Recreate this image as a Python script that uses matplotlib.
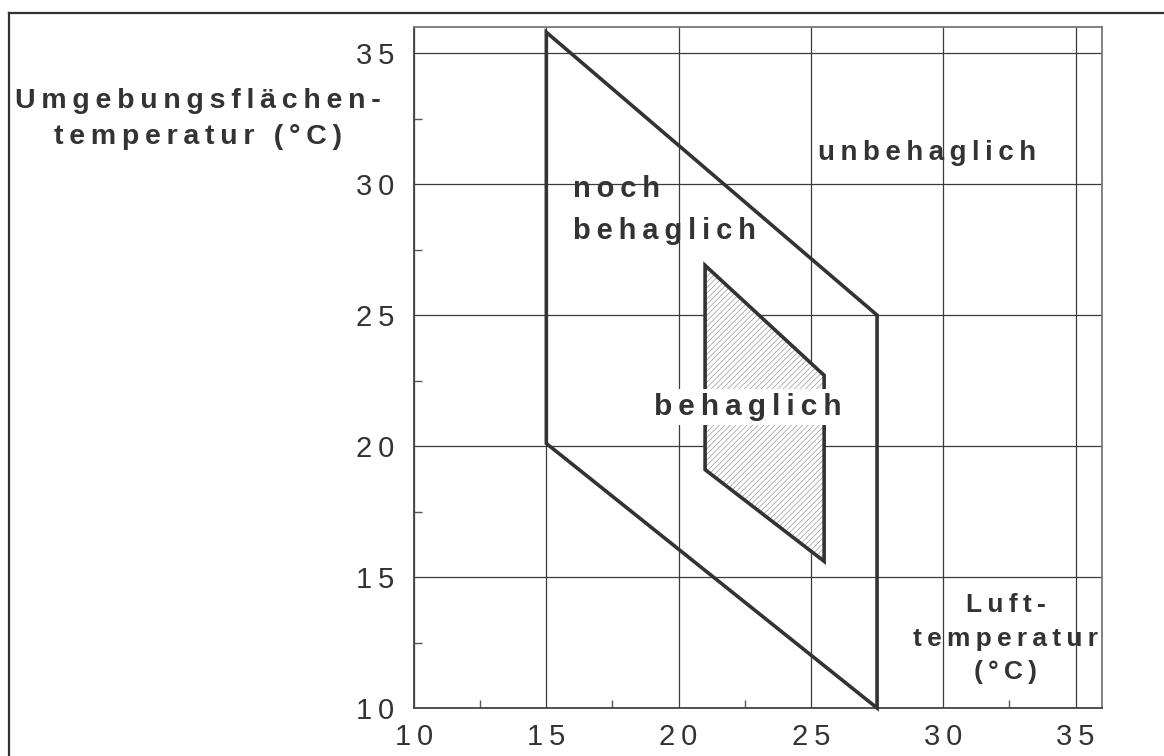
import matplotlib.pyplot as plt
from matplotlib.patches import Polygon
from matplotlib.lines import Line2D
from matplotlib.ticker import MultipleLocator

# comfort zones: air temperature (x) vs. surrounding surface temperature (y)
outer_x = [15, 27.5, 27.5, 15]
outer_y = [35.8, 25, 10, 20.1]
inner_x = [21, 25.5, 25.5, 21]
inner_y = [26.9, 22.7, 15.6, 19.1]

ticks = [10, 15, 20, 25, 30, 35]
tick_labels = ["10", "15", "20", "25", "30", "35"]

FONT = ["Liberation Sans", "DejaVu Sans"]
DARK = "#333333"


def spaced(s):
    # wide letter spacing like in the original drawing
    return "\n".join("\u2009".join(line) for line in s.split("\n"))


fig = plt.figure(figsize=(11.64, 7.56), dpi=100)
ax = fig.add_axes([0.3557, 0.0635, 0.5910, 0.9008])

ax.set_xlim(10, 36)
ax.set_ylim(10, 36)

# grid and ticks
ax.set_xticks(ticks)
ax.set_yticks(ticks)
ax.set_xticklabels([spaced(t) for t in tick_labels], family=FONT, fontsize=21, color=DARK)
ax.set_yticklabels([spaced(t) for t in tick_labels], family=FONT, fontsize=21, color=DARK)
ax.xaxis.set_minor_locator(MultipleLocator(2.5))
ax.yaxis.set_minor_locator(MultipleLocator(2.5))
ax.tick_params(which="both", direction="in", color="#555555", width=1)
ax.tick_params(axis="x", which="major", length=0, pad=11)
ax.tick_params(axis="y", which="major", length=0, pad=14)
ax.tick_params(which="minor", length=6)
ax.grid(True, which="major", color="#3a3a3a", linewidth=0.9)
ax.set_axisbelow(True)
for side in ["left", "bottom"]:
    ax.spines[side].set_color("#444444")
    ax.spines[side].set_linewidth(1.3)
for side in ["top", "right"]:
    ax.spines[side].set_color("#777777")
    ax.spines[side].set_linewidth(1.3)

# hatched inner zone
plt.rcParams["hatch.linewidth"] = 0.5
hatch = Polygon(list(zip(inner_x, inner_y)), closed=True, facecolor="white",
                edgecolor="#9a9a9a", hatch="//////", linewidth=0, zorder=2)
ax.add_patch(hatch)

ax.add_patch(Polygon(list(zip(outer_x, outer_y)), closed=True, fill=False,
                     edgecolor=DARK, linewidth=2.6, joinstyle="miter", zorder=3, clip_on=False))
ax.add_patch(Polygon(list(zip(inner_x, inner_y)), closed=True, fill=False,
                     edgecolor=DARK, linewidth=2.6, joinstyle="miter", zorder=3))

bold = dict(family=FONT, fontsize=20, fontweight="bold", color=DARK)

ax.text(22.6, 21.5, spaced("behaglich"), ha="center", va="center", zorder=4,
        bbox=dict(facecolor="white", edgecolor="none", pad=3),
        family=FONT, fontsize=21.5, fontweight="bold", color=DARK)
ax.text(16.0, 29.0, spaced("noch\nbehaglich"), ha="left", va="center",
        linespacing=1.65, zorder=4, family=FONT, fontsize=21, fontweight="bold", color=DARK)
ax.text(29.4, 31.2, spaced("unbehaglich"), ha="center", va="center", zorder=4, **bold)
ax.text(32.35, 12.65, spaced("Luft-\ntemperatur\n(°C)"), ha="center", va="center",
        linespacing=1.5, zorder=4, family=FONT, fontsize=19, fontweight="bold", color=DARK)

# y axis title placed to the left, horizontally
fig.text(0.170, 0.843, spaced("Umgebungsflächen-\ntemperatur (°C)"), ha="center",
         va="center", linespacing=1.5, family=FONT, fontsize=20.5, fontweight="bold",
         color=DARK)

# frame around the figure (only left and top edges are visible)
fig.add_artist(Line2D([0.0077, 0.0077], [0.0, 0.9828], transform=fig.transFigure,
                      color=DARK, linewidth=1.6))
fig.add_artist(Line2D([0.0077, 1.0], [0.9828, 0.9828], transform=fig.transFigure,
                      color=DARK, linewidth=1.6))

fig.savefig("out.png", dpi=100)
